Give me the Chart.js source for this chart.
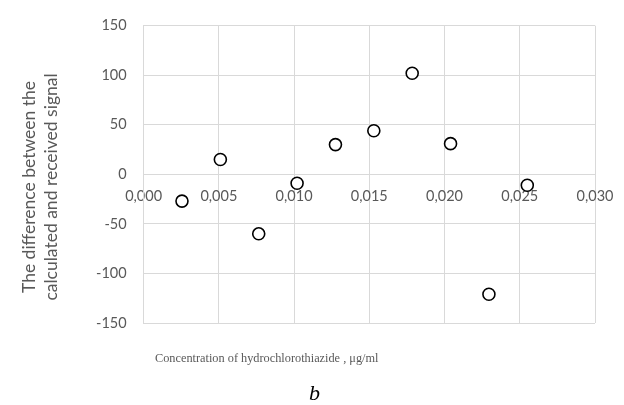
<!DOCTYPE html>
<html>
<head>
<meta charset="utf-8">
<script src="https://cdn.jsdelivr.net/npm/chart.js@4"></script>
<style>
    html, body { margin: 0; padding: 0; background: #fff; }
    #wrap { position: relative; width: 624px; height: 405px; }
    #yTitle {
        position: absolute; left: 40px; top: 187px; width: 280px;
        transform: translate(-50%, -50%) rotate(-90deg);
        font: 17.5px Lato, sans-serif; color: #595959; text-align: center; line-height: 22px;
    }
    #xTitle {
        position: absolute; left: 155px; top: 351px;
        font: 12.3px "Liberation Serif", serif; color: #595959; white-space: nowrap;
    }
    #panel {
        position: absolute; left: 309px; top: 380px;
        font: italic 22px "Liberation Serif", serif; color: #000;
    }
</style>
</head>
<body>
<div id="wrap">
    <canvas id="residuals" width="624" height="405"></canvas>
    <div id="yTitle">The difference between the<br>calculated and received signal</div>
    <div id="xTitle">Concentration of hydrochlorothiazide , μg/ml</div>
    <div id="panel">b</div>
</div>
<script>
const concentration = [0.00255, 0.0051, 0.00765, 0.0102, 0.01275, 0.0153, 0.01785, 0.0204, 0.02295, 0.0255];
const difference = [-27, 15, -60, -9, 30, 44, 102, 31, -121, -11];

const gridColor = "#d9d9d9";
const textColor = "#595959";

const residuals = document.getElementById("residuals");

new Chart(residuals, {
    type: "scatter",
    data: {
        datasets: [
            {
                data: concentration.map((x, i) => ({ x: x, y: difference[i] })),
                pointRadius: 6,
                pointHoverRadius: 6,
                borderWidth: 1.6,
                borderColor: "#000",
                backgroundColor: "#fff",
            },
        ],
    },
    options: {
        responsive: false,
        animation: false,
        layout: {
            padding: { left: 79, right: 29, top: 20, bottom: 82 },
        },
        scales: {
            x: {
                type: "linear",
                position: { y: 0 },
                min: 0,
                max: 0.03,
                // let the end labels overhang instead of shrinking the plot
                afterFit: (scale) => {
                    scale.paddingLeft = 0;
                    scale.paddingRight = 0;
                },
                grid: { color: gridColor, drawTicks: false },
                border: { color: gridColor },
                ticks: {
                    stepSize: 0.005,
                    padding: 13,
                    color: textColor,
                    font: { family: "Lato", size: 14.5 },
                    maxRotation: 0,
                    callback: (v) => Number(v).toFixed(3).replace(".", ","), // comma decimals like the original
                },
            },
            y: {
                min: -150,
                max: 150,
                grid: { color: gridColor, drawTicks: false },
                border: { color: gridColor },
                ticks: {
                    stepSize: 50,
                    padding: 17,
                    color: textColor,
                    font: { family: "Lato", size: 14.5 },
                },
            },
        },
        plugins: {
            legend: { display: false },
            tooltip: { enabled: false },
        },
    },
});
</script>
</body>
</html>
